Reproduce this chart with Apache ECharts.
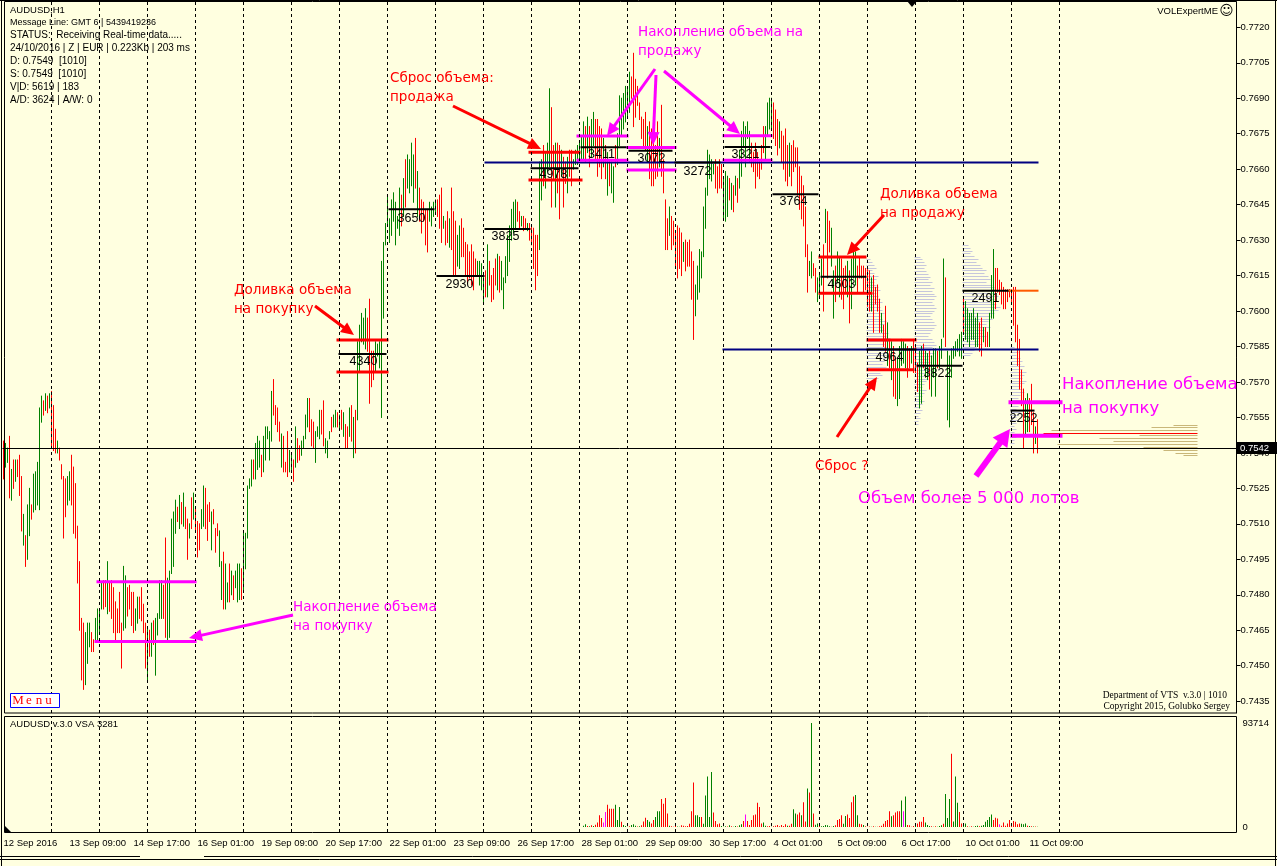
<!DOCTYPE html>
<html>
<head>
<meta charset="utf-8">
<title>AUDUSD H1</title>
<script src="https://cdn.jsdelivr.net/npm/echarts@6.0.0/dist/echarts.min.js"></script>
<style>
html,body{margin:0;padding:0;background:#ffffe0;overflow:hidden;}
#chart{width:1277px;height:866px;}
</style>
</head>
<body>
<div id="chart"></div>
<script>
// ---------------- DATA ----------------
const tradingDays = ['12 Sep','13 Sep','14 Sep','15 Sep','16 Sep','19 Sep','20 Sep','21 Sep','22 Sep','23 Sep',
  '26 Sep','27 Sep','28 Sep','29 Sep','30 Sep','3 Oct','4 Oct','5 Oct','6 Oct','7 Oct','10 Oct','11 Oct',
  '12 Oct','13 Oct','14 Oct','17 Oct'];
const slotCount = 617;

// bar highs / lows in pips above 0.7400, one H1 bar per entry
const highs = [
145,144,142,147,133,137,137,137,139,130,114,105,118,125,118,131,132,136,159,164,162,165,164,165,
166,160,150,145,142,135,130,129,130,132,139,134,127,109,94,70,68,64,68,68,64,61,70,74,
74,85,86,86,94,85,86,83,77,74,81,68,92,88,83,84,81,81,74,79,79,83,76,68,
66,65,68,69,70,72,86,86,84,104,87,90,112,115,120,117,122,119,123,117,112,110,121,123,
117,111,110,116,126,125,118,119,115,116,108,110,107,94,98,93,85,93,90,88,90,93,93,91,
106,106,126,129,137,137,144,147,145,139,147,151,151,149,166,171,160,159,153,148,147,136,149,141,
140,137,151,146,143,145,147,156,163,163,154,153,149,151,158,158,162,146,145,149,155,156,158,157,
156,158,157,152,151,159,160,155,158,187,194,199,197,201,197,205,183,183,187,186,187,221,229,237,
249,239,247,250,246,240,252,249,256,264,266,264,271,266,273,259,252,247,246,243,243,246,244,246,
247,247,249,252,240,238,242,239,252,242,238,232,236,239,235,229,228,225,228,225,222,221,221,220,
215,217,228,221,215,218,222,224,223,221,214,223,232,236,243,246,247,246,242,240,240,239,237,237,
236,235,232,232,263,264,270,267,271,294,286,270,271,271,270,268,265,263,265,268,268,264,268,270,
271,274,280,278,282,278,281,284,281,281,278,277,273,270,267,264,263,261,270,275,291,290,292,295,
294,301,299,309,298,295,288,282,281,284,278,280,277,271,270,280,273,287,264,247,239,244,240,238,
233,236,235,233,229,230,229,230,225,221,211,219,226,225,244,252,268,266,264,262,264,261,264,262,
256,259,257,256,254,253,257,256,268,276,280,278,280,276,271,267,271,267,264,270,278,278,288,290,
290,288,285,281,280,276,274,277,270,271,270,272,269,269,261,257,253,244,228,221,225,220,218,214,
216,222,228,243,242,238,235,217,219,225,223,222,218,219,221,217,222,228,225,219,223,219,219,218,
218,217,214,215,210,211,205,199,194,202,195,188,187,185,180,180,185,188,187,186,185,184,185,188,
185,178,183,185,186,183,182,183,181,184,184,183,185,188,222,214,183,181,184,185,187,188,190,191,
205,204,201,199,199,201,197,199,195,197,193,193,191,199,215,226,218,218,213,212,210,209,209,209,
209,210,210,194,188,175,167,163,165,163,169,157,151,154
];
const lows = [
129,134,136,121,120,125,128,130,122,107,101,92,95,105,112,115,116,118,116,153,156,158,157,159,
142,141,140,140,137,129,104,113,118,120,118,106,104,85,65,44,40,42,51,58,56,56,60,61,
64,74,74,75,72,73,70,64,60,64,64,49,65,66,71,74,67,64,65,68,70,69,64,49,
44,54,54,59,46,63,70,70,70,62,61,62,89,92,106,111,108,110,109,108,95,104,108,112,
107,96,99,108,109,108,103,111,99,110,98,105,92,78,74,74,77,77,80,78,83,77,78,78,
82,91,104,125,126,129,129,133,134,130,132,137,146,137,145,156,152,149,145,134,132,132,130,132,
133,128,134,136,137,139,142,146,151,149,143,142,136,147,146,148,143,140,138,146,149,151,151,151,
150,150,147,142,142,147,145,138,140,154,174,187,186,184,183,161,168,171,174,181,176,155,197,228,
236,229,232,238,228,235,232,236,240,244,252,250,253,246,252,240,238,233,238,228,225,238,236,240,
242,240,235,229,235,228,229,227,226,215,215,219,218,223,223,215,212,214,211,209,215,215,211,209,
204,206,206,211,204,205,211,209,208,209,201,212,215,221,230,233,235,238,235,236,234,235,234,230,
228,218,209,215,226,247,253,252,259,261,244,256,244,250,239,257,244,254,250,257,253,260,262,262,
264,264,264,263,267,261,265,270,264,257,261,256,261,256,249,253,250,246,261,262,270,274,277,280,
282,284,290,278,282,287,281,273,270,268,263,256,253,253,256,257,261,257,250,226,226,232,226,228,
219,214,218,215,221,217,219,219,205,188,198,205,208,214,223,235,249,256,255,258,252,250,252,252,
239,238,240,247,243,242,249,246,252,257,270,261,273,263,261,259,252,257,256,260,267,264,274,277,
277,273,270,266,269,263,260,255,253,257,253,259,261,249,243,239,236,223,208,215,214,215,208,204,
206,211,200,229,214,225,219,197,204,212,206,205,201,208,206,195,201,214,211,208,214,214,208,209,
202,200,200,191,203,200,191,191,185,183,177,176,171,164,163,160,163,177,178,176,172,176,178,174,
174,166,159,161,176,172,171,167,164,172,164,176,176,180,189,185,154,151,172,180,181,183,181,180,
191,188,187,185,188,188,185,185,183,181,187,185,185,185,197,197,201,208,207,203,201,201,204,206,
204,194,187,177,167,160,142,148,149,149,152,140,144,140
];
// g = up bar (green), r = down bar (red)
const barDirs = (
 "rggrgrgrrrgrggrgggggrgrg" + "rrrgrrrrggrrrrrrrgggrrgg" + "ggrrgrrrrrrrggrrrrggrrrr" +
 "grgrggggrrgggggrgrgrrgrg" + "rrrggrrrgrrrggrggrgrgggr" + "gggggrgggrgggggrrrrgrrrg" +
 "grgrrggggrrrgggrrgggrggr" + "grgrrgrgrgggggrrrrgggggg" + "gggggggrgrggggrgrrrrrggg" +
 "grrrgrrgrrrggrrrrrrrrggg" + "grgrrrrgrggggggggrrgrrgr" + "rrrrggrgggrrgrrgrrgrrggg" +
 "gggrgrggrrrrgrgrggrggggg" + "ggrrrrrrrrgrrrrrgrrrrgrr" + "rrrrgrrrrrggggggggggrrrr" +
 "gggrgrgrggggggrrrrrrrggg" + "grrrgrrrrgrrrrrrrrrggrrg" + "ggrgrrggrggrrrgrgggrrrrr" +
 "rrgrrrrgrrgrgrrgggggrrgr" + "rrggrggrgggrgggrgggggggg" + "rgggggggrrgrrgggrrrrrrrr" +
 "rrrrrrrggrrrgr").split('');

// volume panel (VSA), starting at bar 290
const volStart = 290;
const volumes = [
1200,2500,900,600,1500,800,2000,4000,10600,8000,
4000,13500,20000,16500,16500,16500,20000,6200,18000,4700,
1800,900,300,600,1800,2500,1200,400,600,1500,
5000,8250,6200,4700,3200,6200,9000,14100,14100,25300,
20900,26200,12100,1200,600,300,900,400,300,1500,
1200,600,1000,3000,14100,40100,10600,10600,9100,9100,
3000,28300,45400,9000,49500,13000,5300,2500,3200,1000,
300,600,400,1500,600,300,900,500,1500,2500,
5300,11200,5300,1800,6200,10600,11200,21800,18000,3200,
4000,1200,600,900,300,600,1200,1800,600,1800,
900,2500,1200,1200,3000,15900,12100,11200,13000,10600,
22400,5000,34800,31200,93714,12100,2000,3200,1800,600,
900,1800,1500,600,300,900,1500,6200,7100,10600,
3000,10000,11200,8000,22400,27400,28900,10600,3000,2400,
1800,600,300,500,300,600,300,300,600,1200,
3000,5300,6200,14100,9700,10600,13000,14100,14100,23900,
14100,27400,1800,1500,300,900,1200,3200,4700,4700,
9100,4000,1800,900,600,300,600,300,900,1500,
3000,29800,8000,25300,66000,5000,45400,21800,13500,3200,
1200,3200,600,300,600,300,900,1200,600,1200,
1800,4700,6200,9100,11200,6200,8250,7700,2400,1200,
4000,1200,3200,6200,1800,5300,4700,2400,3200,3000,
2400,3200,1200,800,600,500,400,300
];
const volColors = (
 "ggrgrgrrrr" + "mmrrrrgggr" + "gggrgggrgr" + "rrggrrgggr" + "rrrgrrrggr" +
 "rrrrrrgggr" + "gggggrrrrg" + "ggrgrggrgg" + "rmrrrrrrrr" + "ggrrgrrrrr" +
 "rrgrrggrrg" + "rrgrgrggrg" + "ggggrgrrrr" + "ggrrrrggrr" + "grrrgrgrrr" +
 "rrrrgrrrrg" + "mgrrrrgrrr" + "rgggrgrggg" + "rgggrgggrr" + "ggrgrgggrg" +
 "gggggrrrmr" + "rrrrrrrrrg" + "ggrgrgrg").split('');
const volMax = 93714;

const priceTicks = [0.7435,0.7450,0.7465,0.7480,0.7495,0.7510,0.7525,0.7540,0.7555,0.7570,
  0.7585,0.7600,0.7615,0.7630,0.7645,0.7660,0.7675,0.7690,0.7705,0.7720];
const timeTicks = [[0,'12 Sep 2016'],[33,'13 Sep 09:00'],[65,'14 Sep 17:00'],[97,'16 Sep 01:00'],
  [129,'19 Sep 09:00'],[161,'20 Sep 17:00'],[193,'22 Sep 01:00'],[225,'23 Sep 09:00'],
  [257,'26 Sep 17:00'],[289,'28 Sep 01:00'],[321,'29 Sep 09:00'],[353,'30 Sep 17:00'],
  [385,'4 Oct 01:00'],[417,'5 Oct 09:00'],[449,'6 Oct 17:00'],[481,'10 Oct 01:00'],[513,'11 Oct 09:00']];
const currentPrice = 0.7542;
const daySeparators = [24,48,72,96,120,144,168,192,216,240,264,288,312,336,360,384,408,432,456,480,504,528];

// level segments: [fromBar, toBar, pips, styleIndex]
const levelSegments = [
 [241,517,262.8,3],[360,517,183.7,3],
 [47,96,85.5,2],[46,96,60.2,2],
 [167,192,187.8,0],[168,191,181.8,1],[167,192,174.2,0],
 [193,215,243.1,1],[217,240,214.8,1],[241,263,234.7,1],
 [263,288,267.2,0],[264,287,260.4,1],[263,289,255.4,0],
 [287,312,274.0,2],[289,312,269.3,1],[287,312,263.8,2],
 [312,336,269.2,2],[313,334,267.8,1],[312,336,259.7,2],
 [336,358,262.8,1],
 [360,384,274.1,2],[361,383,269.4,1],[360,384,263.8,2],
 [385,407,249.4,1],
 [408,431,222.9,0],[409,431,214.5,1],[408,434,207.5,0],
 [432,456,187.8,0],[432,456,183.7,1],[432,455,175.2,0],
 [457,479,176.9,1],
 [480,503,208.6,1],[503,517,208.6,4],
 [503,529,161.4,5],[504,515,157.9,1],[504,529,147.3,5]
];
// level labels: [bar, pips, text]
const levelLabels = [
 [180,178.5,'4340'],[204,239.3,'3650'],[228,211.4,'2930'],[251,231.3,'3825'],
 [275,257.9,'4978'],[299,266.3,'3411'],[324,264.7,'3072'],[347,259.2,'3272'],
 [371,266.3,'3321'],[395,246.1,'3764'],[419,211.0,'4603'],[443,180.2,'4964'],
 [467,173.4,'3822'],[491,205.1,'2491'],[510,154.4,'2252']
];

// daily volume profiles (grey): start bar, top bin (pips), bin lengths in bars
const profileStarts = [432,456,480,504];
const profileTops = [222,223,228,185];
const profileStep = 1.2;
const profileA = [2,3,4,5,3,4,6,5,4,5,6,7,5,6,7,8,6,7,8,9,7,8,10,9,8,9,11,10,12,11,9,10,12,13,11,10,9,8,10,9,7,8,6,5,4,3];
const profileB = [3,4,5,6,5,6,7,8,7,9,8,10,9,10,11,10,9,10,11,10,9,8,9,10,11,10,9,8,7,9,10,11,9,8,10,9,7,8,6,7,8,6,5,7,6,5,4,6,5,4,3,5,4,3,4,3,2,3,2,2];
const profileC = [3,4,5,4,6,8,7,9,10,12,11,13,14,12,15,16,14,17,18,16,15,17,19,18,16,14,15,13,12,14,11,10,12,9,8,10,7,6,5,4];
const profileD = [2,3,4,3,5,6,5,7,6,8,7,6,8,7,5,6,7,5,4,6,5,4,3,5,4,3,4,3,2,3,2,2,3,2,2];
// right-hand olive profile: [pips, leftBar]
const oliveLines = [[152.0,585],[150.8,574],[149.6,524],[147.4,568],[146.2,548],[145.0,555],
  [143.8,527],[142.6,570],[141.2,580],[140.0,586],[139.0,590]];
const oliveRight = 597;
const redProfileLine = [148.6,520];

// ---------------- BUILD ----------------
const P = v => 0.74 + v / 10000;
const categories = [];
for (const d of tradingDays) for (let h = 0; h < 24; h++) {
  if (categories.length < slotCount) categories.push(d + ' ' + String(h).padStart(2,'0') + ':00');
}
const tickMap = new Map(timeTicks);
const UP = '#008000', DN = '#ff0000';
const volColorMap = {g:'#008000', r:'#ff0000', m:'#ff00ff'};
const levelStyles = [{c:'#ff0000',w:3},{c:'#000000',w:2},{c:'#ff00ff',w:3},{c:'#000080',w:2},{c:'#ff5a00',w:2},{c:'#ff00ff',w:4}];

const barData = highs.map((h,i) => [i, P(lows[i]), P(h), barDirs[i]==='g'?1:0]);
const profileData = [];
[profileA,profileB,profileC,profileD].forEach((lens,k) => {
  lens.forEach((len,j) => profileData.push([profileStarts[k], P(profileTops[k] - j*profileStep), len]));
});
const oliveData = oliveLines.map(l => [l[1], P(l[0]), 0]).concat([[redProfileLine[1], P(redProfileLine[0]), 1]]);
const volData = categories.map((c,i) => {
  const k = i - volStart;
  if (k < 0 || k >= volumes.length) return '-';
  return {value: volumes[k], itemStyle:{color: volColorMap[volColors[k]]}};
});

const sepMarkLine = {
  silent:true, symbol:['none','none'], animation:false, label:{show:false},
  lineStyle:{color:'#000', type:[3,3], width:1},
  emphasis:{disabled:true},
  data: daySeparators.map(i => ({xAxis:i}))
};
const FONT = 'Liberation Sans, Arial, sans-serif';

const option = {
  animation:false,
  backgroundColor:'#ffffe0',
  grid:[
    {left:2.5, width:1234, top:2, height:711},
    {left:2.5, width:1234, top:716, height:116}
  ],
  xAxis:[
    {type:'category', gridIndex:0, data:categories, boundaryGap:true, show:false},
    {type:'category', gridIndex:1, data:categories, boundaryGap:true,
     axisLine:{show:false}, axisTick:{show:false}, splitLine:{show:false},
     axisLabel:{show:true, interval:(idx)=>tickMap.has(idx), formatter:(v,idx)=>tickMap.get(idx)||'',
       align:'left', margin:6, fontSize:9.5, color:'#000', fontFamily:FONT, hideOverlap:false}}
  ],
  yAxis:[
    {type:'value', gridIndex:0, position:'right', min:0.7430, max:0.77307, scale:true,
     axisLine:{show:true, lineStyle:{color:'#000', width:1}},
     axisTick:{show:true, length:4, customValues:priceTicks, lineStyle:{color:'#000'}},
     axisLabel:{customValues:priceTicks, formatter:v=>v.toFixed(4), margin:4, fontSize:9.5, color:'#000', fontFamily:FONT},
     splitLine:{show:false}},
    {type:'value', gridIndex:1, position:'right', min:-4505, max:100022,
     axisLine:{show:false}, axisTick:{show:false}, splitLine:{show:false},
     axisLabel:{customValues:[0, volMax], formatter:v=>String(Math.round(v)), margin:6, fontSize:9.5, color:'#000', fontFamily:FONT}}
  ],
  series:[
    { // grey daily volume profiles
      type:'custom', xAxisIndex:0, yAxisIndex:0, z:1, silent:true, data:profileData,
      renderItem:(params, api) => {
        const a = api.coord([api.value(0), api.value(1)]);
        const b = api.coord([api.value(0)+1, api.value(1)]);
        const bw = b[0]-a[0];
        const x1 = a[0]-bw/2, y = Math.round(a[1])+0.5;
        return {type:'line', shape:{x1:x1, y1:y, x2:x1+api.value(2)*bw, y2:y}, style:{stroke:'#c6c6dc', lineWidth:1}};
      }
    },
    { // right olive profile
      type:'custom', xAxisIndex:0, yAxisIndex:0, z:1, silent:true, data:oliveData,
      renderItem:(params, api) => {
        const a = api.coord([api.value(0), api.value(1)]);
        const b = api.coord([oliveRight, api.value(1)]);
        const y = Math.round(a[1])+0.5;
        return {type:'line', shape:{x1:a[0], y1:y, x2:b[0], y2:y}, style:{stroke: api.value(2)===1?'#ff0000':'#c9b77a', lineWidth:1}};
      }
    },
    { // H1 bars
      type:'custom', xAxisIndex:0, yAxisIndex:0, z:3, silent:true, data:barData,
      encode:{x:0, y:[1,2]},
      renderItem:(params, api) => {
        const a = api.coord([api.value(0), api.value(1)]);
        const b = api.coord([api.value(0), api.value(2)]);
        return {type:'line', shape:{x1:a[0], y1:a[1]+0.5, x2:b[0], y2:b[1]-0.5},
          style:{stroke: api.value(3)===1?UP:DN, lineWidth:1}};
      },
      markLine: sepMarkLine
    },
    { // level segments
      type:'custom', xAxisIndex:0, yAxisIndex:0, z:4, silent:true,
      data: levelSegments.map(s => [s[0], s[1], P(s[2]), s[3]]),
      renderItem:(params, api) => {
        const st = levelStyles[api.value(3)];
        const a = api.coord([api.value(0), api.value(2)]);
        const b = api.coord([api.value(1), api.value(2)]);
        return {type:'line', shape:{x1:a[0]-1, y1:a[1], x2:b[0]+1, y2:b[1]}, style:{stroke:st.c, lineWidth:st.w}};
      },
      markLine:{
        silent:true, symbol:['none','none'], animation:false, emphasis:{disabled:true}, precision:4,
        lineStyle:{color:'#000', type:'solid', width:1},
        label:{show:false},
        data:[{yAxis: currentPrice}]
      }
    },
    { // level labels
      type:'custom', xAxisIndex:0, yAxisIndex:0, z:5, silent:true,
      data: levelLabels.map(l => [l[0], P(l[1])]),
      renderItem:(params, api) => {
        const p = api.coord([api.value(0), api.value(1)]);
        return {type:'text', x:p[0], y:p[1], style:{text: levelLabels[params.dataIndex][2], fill:'#000',
          fontSize:12.5, fontFamily:FONT, align:'center', verticalAlign:'middle'}};
      }
    },
    { // volume
      type:'bar', xAxisIndex:1, yAxisIndex:1, z:3, silent:true, barWidth:1, data:volData,
      markLine: sepMarkLine
    }
  ]
};

const chart = echarts.init(document.getElementById('chart'), null, {renderer:'canvas'});
chart.setOption(option);

// ---------------- ANNOTATIONS / CHROME ----------------
const g = [];
const Z = 50;
function gl(x1,y1,x2,y2,color,w){ g.push({type:'line', z:Z, silent:true, shape:{x1,y1,x2,y2}, style:{stroke:color, lineWidth:w}}); }
function gt(x,y,t,color,size,family,align){
  g.push({type:'text', z:Z+2, silent:true, x:x, y:y,
    style:{text:t, fill:color, fontSize:size, fontFamily:family, align:align||'left', verticalAlign:'middle'}});
}
function arrow(x1,y1,x2,y2,color,w,hl,hw){
  const dx=x2-x1, dy=y2-y1, L=Math.hypot(dx,dy), ux=dx/L, uy=dy/L;
  const bx=x2-ux*hl, by=y2-uy*hl;
  gl(x1,y1,bx+ux*2,by+uy*2,color,w);
  g.push({type:'polygon', z:Z+1, silent:true, shape:{points:[[x2,y2],[bx-uy*hw,by+ux*hw],[bx+uy*hw,by-ux*hw]]}, style:{fill:color}});
}

// frames
gl(0,0.5,1277,0.5,'#000',1);
g.push({type:'rect', z:Z, silent:true, shape:{x:4.5,y:1.5,width:1232,height:711.5}, style:{fill:null, stroke:'#000', lineWidth:1}});
g.push({type:'rect', z:Z, silent:true, shape:{x:4.5,y:716.5,width:1232,height:116}, style:{fill:null, stroke:'#000', lineWidth:1}});
gl(1.5,0,1.5,866,'#000',1);
gl(1275.5,0,1275.5,866,'#000',1);
gl(0,856.5,140,856.5,'#000',1);
gl(204,856.5,1277,856.5,'#000',1);
gl(0,859.5,1277,859.5,'#000',1);
g.push({type:'polygon', z:Z, silent:true, shape:{points:[[907,1],[917,1],[912,7]]}, style:{fill:'#000'}});
g.push({type:'polygon', z:Z, silent:true, shape:{points:[[5,826],[5,832],[11,832]]}, style:{fill:'#000'}});

// current price box
const yCur = chart.convertToPixel({yAxisIndex:0}, currentPrice);
g.push({type:'rect', z:Z+1, silent:true, shape:{x:1237, y:Math.round(yCur)-6, width:40, height:12}, style:{fill:'#000'}});
gt(1240, Math.round(yCur), currentPrice.toFixed(4), '#fff', 9.5, FONT);

// info block
gt(10,10,'AUDUSD,H1','#000',9.5,FONT);
gt(10,23,'Message Line: GMT 6 | 5439419236','#000',9,FONT);
gt(10,35.5,'STATUS:  Receiving Real-time data.....','#000',10,FONT);
gt(10,48,'24/10/2016 | Z | EUR | 0.223Kb | 203 ms','#000',10,FONT);
gt(10,61,'D: 0.7549  [1010]','#000',10,FONT);
gt(10,74,'S: 0.7549  [1010]','#000',10,FONT);
gt(10,87,'V|D: 5619 | 183','#000',10,FONT);
gt(10,100,'A/D: 3624 | A/W: 0','#000',10,FONT);
gt(1218,11,'VOLExpertME','#000',9.5,FONT,'right');
gt(1226.5,11,'\u263A','#000',14,'DejaVu Sans','center');
gt(1227,695,'Department of VTS  v.3.0 | 1010','#000',9.5,'Liberation Serif, serif','right');
gt(1230,706.5,'Copyright 2015, Golubko Sergey','#000',9.5,'Liberation Serif, serif','right');
gt(10,724,'AUDUSD v.3.0 VSA 3281','#000',9.5,FONT);

// time label missing guard: draw last tick label explicitly if axis dropped it
// Menu button
g.push({type:'rect', z:Z, silent:true, shape:{x:10.5,y:693.5,width:49,height:14}, style:{fill:'#ffffff', stroke:'#0000ff', lineWidth:1}});
[['M',18],['e',29],['n',39],['u',48.5]].forEach(m => gt(m[1],701,m[0],'#ff0000',13,'Liberation Serif, serif','center'));

// annotation texts
const CYR = 'DejaVu Sans, Noto Sans, sans-serif';
const annTexts = [
 [390,78,'Сброс объема:','#ff0000',13.5],
 [390,97,'продажа','#ff0000',13.5],
 [638,32,'Накопление объема на','#ff00ff',13.5],
 [638,51,'продажу','#ff00ff',13.5],
 [234,290,'Доливка объема','#ff0000',13.5],
 [234,309,'на покупку','#ff0000',13.5],
 [880,194,'Доливка объема','#ff0000',13.5],
 [880,213,'на продажу','#ff0000',13.5],
 [815,466,'Сброс ?','#ff0000',13.5],
 [1062,385,'Накопление объема','#ff00ff',16.5],
 [1062,409,'на покупку','#ff00ff',16.5],
 [858,499,'Объем более 5 000 лотов','#ff00ff',16.5],
 [293,607,'Накопление объема','#ff00ff',13.5],
 [293,626,'на покупку','#ff00ff',13.5]
];
annTexts.forEach(t => gt(t[0],t[1],t[2],t[3],t[4],CYR));

// annotation arrows [x1,y1,x2,y2,color,width,headLen,headHalfWidth]
const annArrows = [
 [453,106,541,149,'#ff0000',3,13,6],
 [655,69,607,136,'#ff00ff',3,13,6],
 [656,75,653,145,'#ff00ff',3,13,6],
 [664,71,740,134,'#ff00ff',3,13,6],
 [315,306,354,335,'#ff0000',3,13,6],
 [884,215,847,255,'#ff0000',3,13,6],
 [837,437,877,377,'#ff0000',3,13,6],
 [976,476,1010,429,'#ff00ff',6,17,9],
 [293,615,189,638,'#ff00ff',3,13,6]
];
annArrows.forEach(a => arrow(a[0],a[1],a[2],a[3],a[4],a[5],a[6],a[7]));

chart.setOption({graphic:{elements:g}});
</script>
</body>
</html>
